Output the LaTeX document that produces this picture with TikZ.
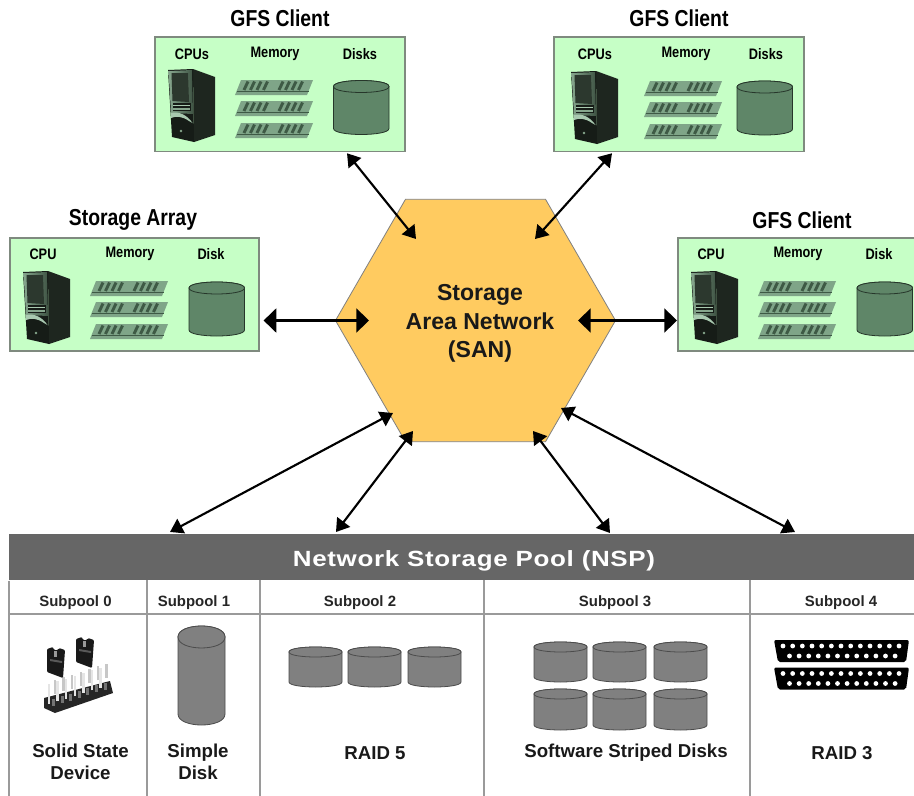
\documentclass[tikz,border=0pt]{standalone}
\usepackage{fontspec}
\setmainfont{Liberation Sans}
\newfontfamily\narfont[FakeStretch=0.84]{Liberation Sans}
\newfontfamily\widefont[FakeStretch=1.18,LetterSpace=3]{Liberation Sans}
\usetikzlibrary{shapes.geometric,arrows.meta,calc}
\definecolor{panelgreen}{HTML}{C6FFC6}
\definecolor{panelline}{HTML}{7F8A7F}
\definecolor{diskgreen}{HTML}{5F8668}
\definecolor{sanfill}{HTML}{FFCB60}
\definecolor{headgray}{HTML}{666666}
\definecolor{cellline}{HTML}{9A9A9A}
\definecolor{diskgray}{HTML}{808080}
\definecolor{memgreen}{HTML}{7FA588}
\definecolor{memchip}{HTML}{3E5A45}
\definecolor{towerblack}{HTML}{161C17}
\definecolor{towerside}{HTML}{1E261F}
\definecolor{towerframe}{HTML}{86A68D}
\definecolor{towerframeb}{HTML}{3F5444}
\definecolor{towerscreen}{HTML}{2C382E}
\definecolor{towerlight}{HTML}{A9C9B0}
\tikzset{
  panel/.style={draw=panelline,line width=1.2pt,fill=panelgreen,inner sep=0pt,anchor=north west},
  titletext/.style={font=\narfont\bfseries\fontsize{17.3}{20}\selectfont,inner sep=0pt,text=black},
  smalltext/.style={font=\narfont\bfseries\fontsize{11.4}{13}\selectfont,inner sep=0pt,text=black},
  subtext/.style={font=\bfseries\fontsize{11.2}{13}\selectfont,inner sep=0pt,text=black!85},
  captext/.style={font=\bfseries\fontsize{14}{16.5}\selectfont,inner sep=0pt,align=center,text=black!90},
  conn/.style={line width=1.6pt,black,{Triangle[length=9.5pt,width=12pt]}-{Triangle[length=9.5pt,width=12pt]}},
  connh/.style={line width=1.6pt,black,{Triangle[length=9.5pt,width=18pt]}-{Triangle[length=9.5pt,width=18pt]}},
  cellrule/.style={draw=cellline,line width=1pt},
  cyl/.style={draw=black!70,line width=0.6pt,fill=diskgray}
}
% cylinder: x1 y1 x2 y2 ry style
\newcommand{\cylshape}[6]{%
  \path[#6] ({#1},{#2+#5}) -- ({#1},{#4-#5}) .. controls ({#1},{#4+#5/3}) and ({#3},{#4+#5/3}) .. ({#3},{#4-#5}) -- ({#3},{#2+#5})
     .. controls ({#3},{#2-#5/3}) and ({#1},{#2-#5/3}) .. ({#1},{#2+#5}) -- cycle;
  \path[#6] ({#1},{#2+#5}) .. controls ({#1},{#2+2.33*#5}) and ({#3},{#2+2.33*#5}) .. ({#3},{#2+#5})
     .. controls ({#3},{#2-#5/3}) and ({#1},{#2-#5/3}) .. ({#1},{#2+#5}) -- cycle;
}
\newcommand{\towerpc}[2]{%
  \begin{scope}[shift={(#1,#2)}]
    \fill[towerside] (26,1) -- (48,9) -- (48,67) -- (27,74) -- cycle;
    \fill[towerblack] (1,2) -- (26,1) -- (27,74) -- (5,69) -- cycle;
    \fill[left color=towerframe,right color=towerframeb] (1.5,3) -- (25,2) -- (26,46) -- (4,45) -- cycle;
    \fill[towerscreen] (4.5,5) -- (21,5) -- (22,34) -- (5.5,33) -- cycle;
    \fill[towerblack] (5.5,35) -- (23.5,35) -- (23.5,43) -- (5.5,43) -- cycle;
    \fill[towerlight] (6,36.5) -- (23,36.5) -- (23,38) -- (6,38) -- cycle;
    \fill[towerframe] (6,40) -- (23,40) -- (23,41.5) -- (6,41.5) -- cycle;
    \fill[towerlight] (4,45) .. controls (12,43) and (20,47) .. (25.5,55) -- (22,53) .. controls (15,48) and (9,48) .. (4,50) -- cycle;
    \fill[towerframe] (14,63) circle (1.3);
  \end{scope}}
\newcommand{\memstick}[2]{%
  \begin{scope}[shift={(#1,#2)}]
    \fill[memgreen] (6,0) -- (78,0) -- (72,15) -- (0,15) -- cycle;
    \foreach \g in {9,44}{\foreach \i in {0,6.5,13,19.5}{
      \draw[memchip,line width=2.2pt] ({\g+\i+4},1.5) -- ({\g+\i},10);}}
    \draw[memchip,line width=0.5pt] (2,11.5) -- (74,11.5);
  \end{scope}}
\newcommand{\serverkit}[6]{%
  \towerpc{#1}{#2}
  \memstick{#3}{#4}
  \memstick{#3}{#4+21}
  \memstick{#3}{#4+43}
  \cylshape{#5}{#6}{#5+55.5}{#6+54}{6}{draw=black!60!diskgreen,line width=0.6pt,fill=diskgreen}
}
\newcommand{\dbconn}[1]{%
  \begin{scope}[shift={(0,#1)}]
    \fill[black,rounded corners=1.5pt] (774,640) -- (909,640) -- (906,662) -- (778,662) -- cycle;
    \foreach \k in {0,...,12}{\fill[white] ({783+9.67*\k},646) circle (2.4);}
    \foreach \k in {0,...,11}{\fill[white] ({789.5+9.6*\k},656) circle (2.4);}
  \end{scope}}
\newcommand{\jumpercap}[2]{%
  \begin{scope}[shift={(#1,#2)}]
    \fill[black!90,rounded corners=0.8pt] (0,2) -- (6,0) -- (7,3) -- (11,3) -- (12,1) -- (18,3) -- (16,31) -- (0,25) -- cycle;
    \fill[black!40] (7,4) rectangle (10,10);
    \fill[black!65] (3,12) -- (15,14) -- (15,16) -- (3,14) -- cycle;
  \end{scope}}
\begin{document}
\begin{tikzpicture}[x=0.75pt,y=-0.75pt]
\useasboundingbox (0,0) rectangle (914,796);
\clip (0,0) rectangle (914,796);
\fill[white] (0,0) rectangle (914,796);

% panels
\node[panel,minimum width=187.5pt,minimum height=86pt] (client1) at (154,36) {};
\node[panel,minimum width=187.5pt,minimum height=86pt] (client2) at (553,36) {};
\node[panel,minimum width=186.75pt,minimum height=85pt] (array) at (9,237) {};
\node[panel,minimum width=190pt,minimum height=85pt] (client3) at (677,237) {};

\node[titletext] (t1) at (280,18) {GFS Client};
\node[titletext] (t2) at (679,18) {GFS Client};
\node[titletext] (t3) at (133,219.5) {Storage Array};
\node[titletext] (t4) at (802,220) {GFS Client};

\node[smalltext] (c1a) at (192,54) {CPUs};
\node[smalltext] (c1b) at (275,54) {Memory};
\node[smalltext] (c1c) at (360,54) {Disks};
\node[smalltext] (c2a) at (595,54) {CPUs};
\node[smalltext] (c2b) at (686,54) {Memory};
\node[smalltext] (c2c) at (766,54) {Disks};
\node[smalltext] (c3a) at (43,254) {CPU};
\node[smalltext] (c3b) at (130,254) {Memory};
\node[smalltext] (c3c) at (211,254) {Disk};
\node[smalltext] (c4a) at (711,254) {CPU};
\node[smalltext] (c4b) at (798,254) {Memory};
\node[smalltext] (c4c) at (879,254) {Disk};

\serverkit{167}{68}{235}{80}{333.5}{80.5}
\serverkit{570}{70}{644}{81}{737}{81}
\serverkit{22}{270}{90}{281}{189}{282}
\serverkit{690}{270}{758}{281}{857}{282}

% SAN
\node[regular polygon,regular polygon sides=6,draw=black!50,line width=0.6pt,fill=sanfill,minimum size=210pt,inner sep=0pt] (san) at (475.5,320.5) {};
\node[font=\bfseries\fontsize{17.3}{21.4}\selectfont,align=center,inner sep=0pt,text=black!90] (sanlabel) at (480,323.5) {Storage\\Area Network\\(SAN)};

% pool
\node[fill=headgray,minimum width=678.75pt,minimum height=34.5pt,inner sep=0pt,anchor=north west] (pool) at (9,534) {};
\node[font=\widefont\bfseries\fontsize{16.5}{18}\selectfont,text=white,inner sep=0pt] (poollabel) at (474,561) {Network Storage Pool (NSP)};

\coordinate (gridtl) at (pool.south west);
\draw[cellrule] (gridtl) -- ++(0,216);
\draw[cellrule] (147,580) -- (147,796);
\draw[cellrule] (260,580) -- (260,796);
\draw[cellrule] (484,580) -- (484,796);
\draw[cellrule] (750,580) -- (750,796);
\draw[cellrule] (9,614) -- (914,614);

\node[subtext] (s0) at (75.5,603) {Subpool 0};
\node[subtext] (s1) at (194,603) {Subpool 1};
\node[subtext] (s2) at (360,603) {Subpool 2};
\node[subtext] (s3) at (615,603) {Subpool 3};
\node[subtext] (s4) at (841,603) {Subpool 4};

\node[captext] (p0) at (80.5,762) {Solid State\\Device};
\node[captext] (p1) at (198,762) {Simple\\Disk};
\node[captext] (p2) at (375,753) {RAID 5};
\node[captext] (p3) at (626,753) {Software Striped Disks};
\node[captext] (p4) at (842,753) {RAID 3};

% jumpers
\foreach \k in {0,...,6}{
  \draw[black!22,line width=1.9pt] ({55+8.6*\k},{694-2.75*\k}) -- ({55+8.6*\k},{680-2.75*\k});
}
\fill[black!85] (44,698) -- (110,681) -- (113,693) -- (55,713) -- (44,708) -- cycle;
\foreach \k in {0,...,6}{
  \fill[black!55] ({52+8.6*\k},{699-2.75*\k}) rectangle ({55+8.6*\k},{706-2.75*\k});
  \draw[black!10,line width=1.9pt] ({49+8.6*\k},{704-2.75*\k}) -- ({49+8.6*\k},{684-2.75*\k});
}
\jumpercap{47}{647}
\jumpercap{76}{637}

% cylinders
\cylshape{178}{626}{225}{725}{11}{cyl}
\foreach \xa in {289,348,408}{\cylshape{\xa}{647}{\xa+53}{687}{5}{cyl}}
\foreach \xa in {534,593,654}{
  \cylshape{\xa}{642}{\xa+53}{682}{5}{cyl}
  \cylshape{\xa}{689}{\xa+53}{730}{5}{cyl}}
\dbconn{0}
\dbconn{27.5}

% connectors
\draw[conn] ($(client1.south west)+(193,1)$) -- ($(san.center)+(-59.5,-81.5)$);
\draw[conn] ($(client2.south west)+(59,1)$) -- ($(san.center)+(59.5,-81.5)$);
\draw[connh] ($(array.east |- san.center)+(4,0)$) -- ($(san.center)+(-106.5,0)$);
\draw[connh] (client3.west |- san.center) -- ($(san.center)+(102.5,0)$);
\draw[conn] ($(pool.north west)+(161,-2)$) -- ($(san.center)+(-82.5,92.5)$);
\draw[conn] ($(pool.north west)+(327,-2)$) -- ($(san.center)+(-62.5,110.5)$);
\draw[conn] ($(pool.north west)+(601,-1)$) -- ($(san.center)+(57.5,110.5)$);
\draw[conn] ($(pool.north west)+(786,-2)$) -- ($(san.center)+(85.5,87.5)$);
\end{tikzpicture}
\end{document}
